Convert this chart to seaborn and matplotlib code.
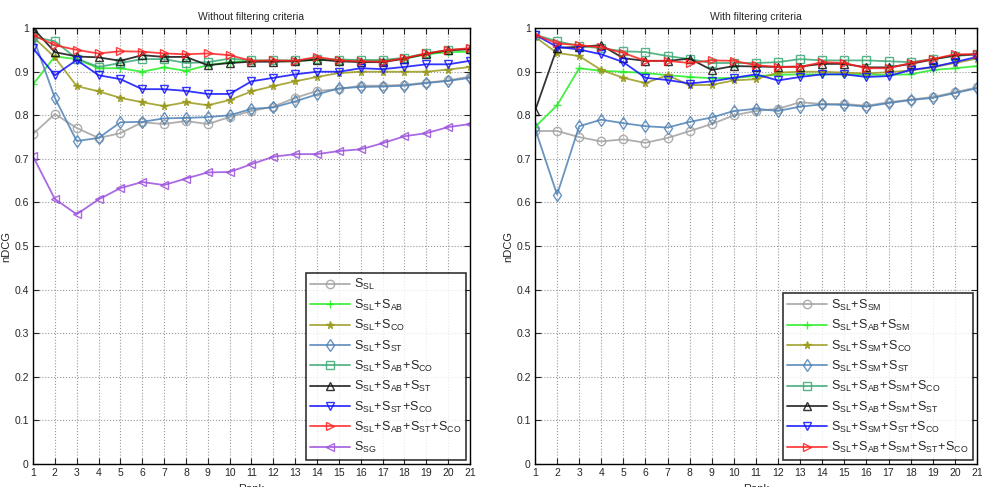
import numpy as np
import pandas as pd
import matplotlib
matplotlib.use('Agg')
import matplotlib.pyplot as plt
from matplotlib.ticker import FormatStrFormatter
import seaborn as sns

# ── Data ──────────────────────────────────────────────────────────────────────
RANKS = list(range(1, 22))

# Left: without filtering criteria
L_SL      = [0.757, 0.803, 0.771, 0.748, 0.759, 0.784, 0.780, 0.787, 0.780, 0.796, 0.810,
             0.820, 0.840, 0.856, 0.860, 0.868, 0.868, 0.870, 0.875, 0.880, 0.889]
L_SL_AB   = [0.871, 0.935, 0.929, 0.908, 0.908, 0.900, 0.910, 0.902, 0.915, 0.922, 0.925,
             0.925, 0.925, 0.927, 0.927, 0.925, 0.925, 0.930, 0.940, 0.945, 0.946]
L_SL_CO   = [0.980, 0.933, 0.867, 0.855, 0.840, 0.830, 0.821, 0.830, 0.823, 0.835, 0.855,
             0.867, 0.878, 0.888, 0.897, 0.900, 0.900, 0.900, 0.900, 0.905, 0.911]
L_SL_ST   = [0.980, 0.840, 0.741, 0.748, 0.784, 0.785, 0.793, 0.794, 0.796, 0.800, 0.815,
             0.818, 0.832, 0.848, 0.862, 0.865, 0.866, 0.868, 0.874, 0.879, 0.886]
L_SL_AB_CO = [0.980, 0.970, 0.930, 0.911, 0.920, 0.929, 0.929, 0.920, 0.922, 0.930, 0.926,
              0.926, 0.926, 0.930, 0.928, 0.927, 0.927, 0.932, 0.942, 0.950, 0.952]
L_SL_AB_ST = [1.000, 0.945, 0.935, 0.933, 0.925, 0.938, 0.934, 0.934, 0.915, 0.920, 0.923,
              0.923, 0.924, 0.928, 0.924, 0.922, 0.922, 0.930, 0.941, 0.949, 0.952]
L_SL_ST_CO = [0.954, 0.892, 0.927, 0.892, 0.883, 0.860, 0.860, 0.856, 0.849, 0.849, 0.878,
              0.886, 0.894, 0.900, 0.900, 0.908, 0.906, 0.911, 0.917, 0.917, 0.925]
L_SL_AB_ST_CO = [0.984, 0.961, 0.950, 0.942, 0.947, 0.946, 0.942, 0.940, 0.942, 0.938, 0.925,
                 0.926, 0.925, 0.934, 0.926, 0.924, 0.923, 0.931, 0.942, 0.950, 0.954]
L_SG      = [0.706, 0.608, 0.573, 0.607, 0.633, 0.647, 0.640, 0.655, 0.669, 0.670, 0.688,
             0.705, 0.711, 0.711, 0.718, 0.722, 0.736, 0.752, 0.759, 0.773, 0.780]

# Right: with filtering criteria
R_SL_SM       = [0.764, 0.764, 0.750, 0.740, 0.745, 0.737, 0.748, 0.764, 0.780, 0.800, 0.810,
                 0.815, 0.830, 0.826, 0.826, 0.822, 0.830, 0.836, 0.842, 0.853, 0.864]
R_SL_AB_SM    = [0.773, 0.823, 0.908, 0.902, 0.900, 0.897, 0.892, 0.888, 0.885, 0.886, 0.890,
                 0.893, 0.894, 0.894, 0.894, 0.893, 0.893, 0.894, 0.904, 0.908, 0.913]
R_SL_SM_CO    = [0.980, 0.943, 0.936, 0.904, 0.886, 0.874, 0.892, 0.869, 0.870, 0.880, 0.883,
                 0.898, 0.900, 0.900, 0.898, 0.896, 0.899, 0.903, 0.910, 0.920, 0.930]
R_SL_SM_ST    = [0.770, 0.618, 0.775, 0.790, 0.782, 0.775, 0.772, 0.785, 0.795, 0.810, 0.815,
                 0.810, 0.820, 0.825, 0.824, 0.820, 0.828, 0.835, 0.840, 0.851, 0.862]
R_SL_AB_SM_CO = [0.985, 0.970, 0.959, 0.954, 0.947, 0.945, 0.936, 0.929, 0.920, 0.920, 0.920,
                 0.922, 0.929, 0.926, 0.926, 0.926, 0.924, 0.922, 0.929, 0.936, 0.940]
R_SL_AB_SM_ST = [0.810, 0.955, 0.957, 0.961, 0.931, 0.925, 0.925, 0.930, 0.904, 0.913, 0.912,
                 0.911, 0.912, 0.918, 0.918, 0.910, 0.910, 0.918, 0.928, 0.938, 0.940]
R_SL_SM_ST_CO = [0.985, 0.957, 0.951, 0.940, 0.922, 0.886, 0.881, 0.873, 0.878, 0.886, 0.894,
                 0.880, 0.888, 0.894, 0.894, 0.888, 0.890, 0.904, 0.911, 0.922, 0.934]
R_SL_AB_SM_ST_CO = [0.985, 0.965, 0.961, 0.956, 0.943, 0.925, 0.925, 0.920, 0.926, 0.925, 0.915,
                    0.911, 0.911, 0.922, 0.920, 0.908, 0.908, 0.920, 0.929, 0.940, 0.940]

# ── Styles ────────────────────────────────────────────────────────────────────
GRAY, GREEN, OLIVE, STEEL = '#a0a0a0', '#22ee22', '#9a9a1e', '#4f82b4'
TEAL, BLACK, BLUE, RED, PURPLE = '#3aa873', '#111111', '#1010ff', '#ff2020', '#9b50dc'

LEFT = [
    (r'$\mathregular{S_{SL}}$', L_SL, GRAY, 'o'),
    (r'$\mathregular{S_{SL}\!+\!S_{AB}}$', L_SL_AB, GREEN, '+'),
    (r'$\mathregular{S_{SL}\!+\!S_{CO}}$', L_SL_CO, OLIVE, '*'),
    (r'$\mathregular{S_{SL}\!+\!S_{ST}}$', L_SL_ST, STEEL, 'd'),
    (r'$\mathregular{S_{SL}\!+\!S_{AB}\!+\!S_{CO}}$', L_SL_AB_CO, TEAL, 's'),
    (r'$\mathregular{S_{SL}\!+\!S_{AB}\!+\!S_{ST}}$', L_SL_AB_ST, BLACK, '^'),
    (r'$\mathregular{S_{SL}\!+\!S_{ST}\!+\!S_{CO}}$', L_SL_ST_CO, BLUE, 'v'),
    (r'$\mathregular{S_{SL}\!+\!S_{AB}\!+\!S_{ST}\!+\!S_{CO}}$', L_SL_AB_ST_CO, RED, '>'),
    (r'$\mathregular{S_{SG}}$', L_SG, PURPLE, '<'),
]
RIGHT = [
    (r'$\mathregular{S_{SL}\!+\!S_{SM}}$', R_SL_SM, GRAY, 'o'),
    (r'$\mathregular{S_{SL}\!+\!S_{AB}\!+\!S_{SM}}$', R_SL_AB_SM, GREEN, '+'),
    (r'$\mathregular{S_{SL}\!+\!S_{SM}\!+\!S_{CO}}$', R_SL_SM_CO, OLIVE, '*'),
    (r'$\mathregular{S_{SL}\!+\!S_{SM}\!+\!S_{ST}}$', R_SL_SM_ST, STEEL, 'd'),
    (r'$\mathregular{S_{SL}\!+\!S_{AB}\!+\!S_{SM}\!+\!S_{CO}}$', R_SL_AB_SM_CO, TEAL, 's'),
    (r'$\mathregular{S_{SL}\!+\!S_{AB}\!+\!S_{SM}\!+\!S_{ST}}$', R_SL_AB_SM_ST, BLACK, '^'),
    (r'$\mathregular{S_{SL}\!+\!S_{SM}\!+\!S_{ST}\!+\!S_{CO}}$', R_SL_SM_ST_CO, BLUE, 'v'),
    (r'$\mathregular{S_{SL}\!+\!S_{AB}\!+\!S_{SM}\!+\!S_{ST}\!+\!S_{CO}}$', R_SL_AB_SM_ST_CO, RED, '>'),
]

sns.set_theme(style='white')
plt.rcParams['font.family'] = ['Liberation Sans', 'DejaVu Sans']
plt.rcParams['mathtext.fontset'] = 'custom'
plt.rcParams['mathtext.rm'] = 'Liberation Sans'


def draw(ax, series, title):
    for label, vals, color, marker in series:
        df = pd.DataFrame({'rank': RANKS, 'ndcg': vals})
        filled = marker in ('+', '*')
        sns.lineplot(data=df, x='rank', y='ndcg', ax=ax, color=color, label=label,
                     marker=marker, markersize=6 if marker != '*' else 5.5,
                     markerfacecolor=color if filled else 'none',
                     markeredgecolor=color, markeredgewidth=1.0,
                     linewidth=1.3, alpha=0.85)
    ax.set_xlim(1, 21)
    ax.set_ylim(0, 1)
    ax.set_xticks(RANKS)
    ax.set_yticks(np.arange(0, 1.01, 0.1))
    ax.yaxis.set_major_formatter(FormatStrFormatter('%g'))
    ax.grid(True, linestyle=':', color='#999999', linewidth=0.8)
    ax.tick_params(direction='in', length=4, width=0.8, labelsize=7.5,
                   top=True, right=True, bottom=True, left=True, pad=3)
    for sp in ax.spines.values():
        sp.set_color('black')
        sp.set_linewidth(1.0)
    ax.set_title(title, fontsize=7.5, pad=6)
    ax.set_xlabel('Rank', fontsize=8)
    ax.set_ylabel('nDCG', fontsize=8, labelpad=2)
    leg = ax.legend(loc='lower right', fontsize=9, frameon=True, fancybox=False,
                    edgecolor='black', handlelength=3.2, labelspacing=0.42,
                    borderpad=0.35, handletextpad=0.3, borderaxespad=0.35)
    leg.get_frame().set_linewidth(1.2)


fig = plt.figure(figsize=(9.82, 4.87), dpi=100)
ax1 = fig.add_axes([0.0336, 0.0472, 0.445, 0.895])
ax2 = fig.add_axes([0.5448, 0.0472, 0.450, 0.895])
draw(ax1, LEFT, 'Without filtering criteria')
draw(ax2, RIGHT, 'With filtering criteria')

fig.savefig('out.png', dpi=100)
